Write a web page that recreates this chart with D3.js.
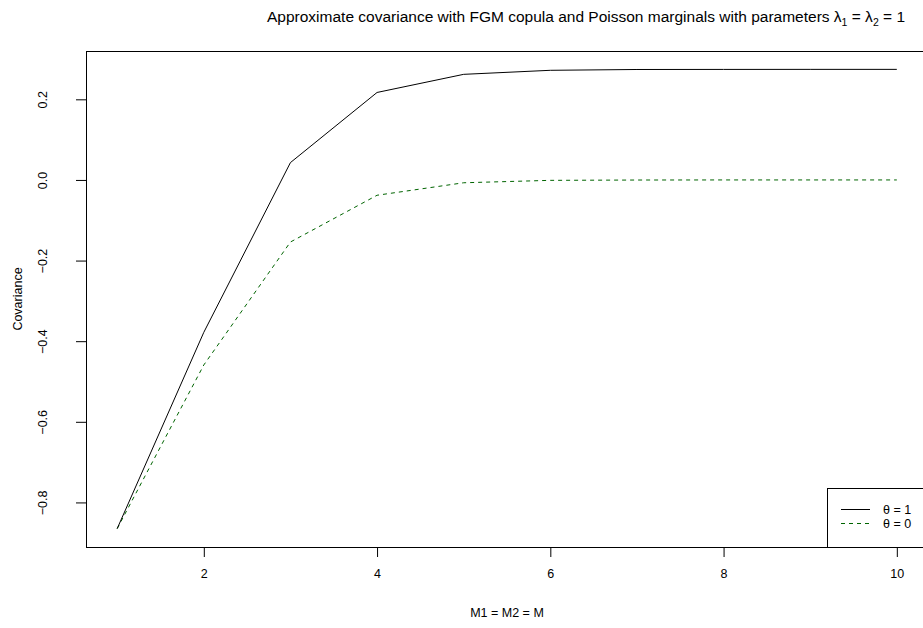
<!DOCTYPE html>
<html>
<head>
<meta charset="utf-8">
<script src="https://cdnjs.cloudflare.com/ajax/libs/d3/7.8.5/d3.min.js"></script>
<style>
html,body{margin:0;padding:0;background:#fff;overflow:hidden;}
svg{display:block;font-family:"Liberation Sans",Arial,sans-serif;}
</style>
</head>
<body>
<svg id="chart" width="923" height="628"></svg>
<script>
// Data
const M = [1, 2, 3, 4, 5, 6, 7, 8, 9, 10];
const covTheta1 = [-0.865, -0.378, 0.043, 0.217, 0.262, 0.272, 0.274, 0.2742, 0.2743, 0.2743];
const covTheta0 = [-0.865, -0.459, -0.154, -0.038, -0.007, -0.001, -0.0002, 0, 0, 0];
const xTicks = [2, 4, 6, 8, 10];
const yTicks = [-0.8, -0.6, -0.4, -0.2, 0.0, 0.2];
const legendLabels = ["θ = 1", "θ = 0"];

const svg = d3.select("#chart");
const plot = {left: 86, top: 51, right: 928, bottom: 547};

const xExt = d3.extent(M);
const xPad = (xExt[1] - xExt[0]) * 0.04;
const x = d3.scaleLinear().domain([xExt[0] - xPad, xExt[1] + xPad]).range([plot.left, plot.right]);
const allY = covTheta1.concat(covTheta0);
const yExt = d3.extent(allY);
const yPad = (yExt[1] - yExt[0]) * 0.04;
const y = d3.scaleLinear().domain([yExt[0] - yPad, yExt[1] + yPad]).range([plot.bottom, plot.top]);

// Title
const title = svg.append("text")
  .attr("x", 586).attr("y", 22)
  .attr("text-anchor", "middle")
  .attr("font-size", 15.5)
  .attr("fill", "#000");
title.append("tspan").text("Approximate covariance with FGM copula and Poisson marginals with parameters λ");
title.append("tspan").attr("font-size", 10.5).attr("dy", 4).text("1");
title.append("tspan").attr("dy", -4).text(" = λ");
title.append("tspan").attr("font-size", 10.5).attr("dy", 4).text("2");
title.append("tspan").attr("dy", -4).text(" = 1");

// Lines
const line = d3.line().x((d, i) => x(M[i])).y(d => y(d));
svg.append("path").datum(covTheta0)
  .attr("d", line).attr("fill", "none")
  .attr("stroke", "#006400").attr("stroke-width", 1)
  .attr("stroke-dasharray", "4,4");
svg.append("path").datum(covTheta1)
  .attr("d", line).attr("fill", "none")
  .attr("stroke", "#000").attr("stroke-width", 1);

// Axes
const xAxis = d3.axisBottom(x).tickValues(xTicks).tickSize(10).tickPadding(12).tickFormat(d3.format("d"));
const gx = svg.append("g").attr("transform", `translate(0,${plot.bottom})`).call(xAxis);
gx.select(".domain").attr("d", `M${x(xTicks[0])},0.5H${x(xTicks[xTicks.length-1])}`);
gx.selectAll("text").attr("font-size", 12.5).attr("font-family", "Liberation Sans, Arial, sans-serif");

const yAxis = d3.axisLeft(y).tickValues(yTicks).tickSize(10).tickFormat(d => d3.format(".1f")(d).replace("-", "−"));
const gy = svg.append("g").attr("transform", `translate(${plot.left},0)`).call(yAxis);
gy.select(".domain").remove();
gy.selectAll(".tick text")
  .attr("font-size", 12.5).attr("font-family", "Liberation Sans, Arial, sans-serif")
  .attr("text-anchor", "middle").attr("dy", null)
  .attr("x", 0).attr("y", 0)
  .attr("transform", "translate(-39,0) rotate(-90)");

// Plot box
svg.append("rect")
  .attr("x", plot.left + 0.5).attr("y", plot.top + 0.5)
  .attr("width", plot.right - plot.left).attr("height", plot.bottom - plot.top)
  .attr("fill", "none").attr("stroke", "#000").attr("stroke-width", 1);

// Axis titles
svg.append("text").attr("x", (plot.left + plot.right) / 2).attr("y", 617)
  .attr("text-anchor", "middle").attr("font-size", 12.5).text("M1 = M2 = M");
svg.append("text").attr("transform", `translate(22,${(plot.top + plot.bottom) / 2}) rotate(-90)`)
  .attr("text-anchor", "middle").attr("font-size", 12.5).text("Covariance");

// Legend (bottomright)
const lg = svg.append("g");
lg.append("rect").attr("x", 827.5).attr("y", 488.5)
  .attr("width", plot.right - 827).attr("height", plot.bottom - 488)
  .attr("fill", "#fff").attr("stroke", "#000");
const lgColors = ["#000", "#006400"];
const lgDash = [null, "4,4"];
legendLabels.forEach((lab, i) => {
  const yy = 509 + i * 14;
  lg.append("line").attr("x1", 841).attr("x2", 870).attr("y1", yy + 0.5).attr("y2", yy + 0.5)
    .attr("stroke", lgColors[i]).attr("stroke-dasharray", lgDash[i]);
  lg.append("text").attr("x", 883).attr("y", yy + 4.5).attr("font-size", 12.5).text(lab);
});
</script>
</body>
</html>
